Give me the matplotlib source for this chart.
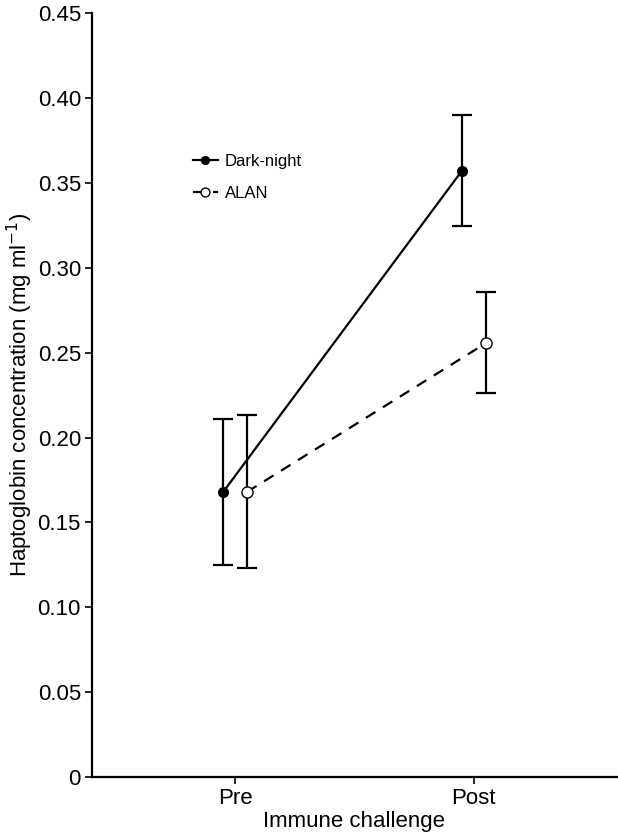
import matplotlib.pyplot as plt
import numpy as np

plt.rcParams["font.family"] = ["Liberation Sans", "DejaVu Sans"]

categories = ["Pre", "Post"]
dark_mean = [0.168, 0.357]
dark_low = [0.125, 0.3245]
dark_high = [0.211, 0.390]
alan_mean = [0.168, 0.2555]
alan_low = [0.123, 0.226]
alan_high = [0.213, 0.2855]

x = np.arange(1, len(categories) + 1)
dodge = 0.05

fig = plt.figure(figsize=(6.18, 8.33), dpi=100)
ax = fig.add_axes([0.149, 0.0672, 0.849, 0.917])

dm, am = np.array(dark_mean), np.array(alan_mean)
derr = [dm - np.array(dark_low), np.array(dark_high) - dm]
aerr = [am - np.array(alan_low), np.array(alan_high) - am]

ax.errorbar(x - dodge, dm, yerr=derr, color="black", lw=1.6, ls="-",
            marker="o", ms=7, mfc="black", mec="black", capsize=7,
            elinewidth=1.6, capthick=1.6, label="Dark-night")
ax.errorbar(x + dodge, am, yerr=aerr, color="black", lw=1.6, ls=(0, (5, 4)),
            marker="o", ms=8, mfc="white", mec="black", capsize=7,
            elinewidth=1.6, capthick=1.6, label="ALAN")

ax.set_xlim(0.4, 2.6)
ax.set_ylim(0, 0.45)
ax.set_xticks(x, categories)
yt = np.arange(0, 0.451, 0.05)
ax.set_yticks(yt, ["0"] + [f"{v:.2f}" for v in yt[1:]])
ax.tick_params(labelsize=16, length=5, width=1.2, colors="black", pad=3)
ax.set_xlabel("Immune challenge", fontsize=16, labelpad=1)
ax.set_ylabel("Haptoglobin concentration (mg ml$^{-1}$)", fontsize=16, labelpad=2)
for s in ["top", "right"]:
    ax.spines[s].set_visible(False)
for s in ["left", "bottom"]:
    ax.spines[s].set_linewidth(1.6)

handles, labels = ax.get_legend_handles_labels()
handles = [h[0] for h in handles]
ax.legend(handles, labels, loc="upper left", bbox_to_anchor=(0.163, 0.835),
          frameon=False, fontsize=12, handlelength=1.5, handletextpad=0.45,
          labelspacing=1.0, markerscale=0.8)

fig.savefig("out.png", dpi=100)
